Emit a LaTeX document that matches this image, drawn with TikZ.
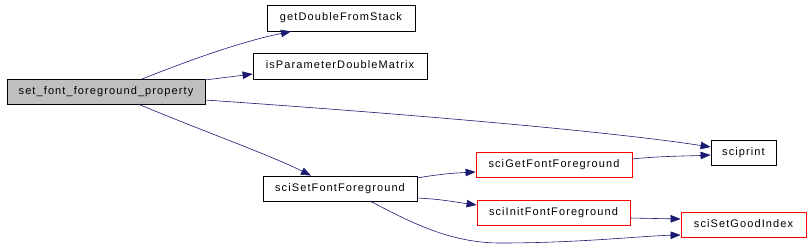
\documentclass[tikz,border=0pt]{standalone}
\usepackage{fontspec}
\setmainfont{Liberation Sans}
\newfontfamily\lblfont[LetterSpace=10]{Liberation Sans}
\usetikzlibrary{arrows.meta}
\definecolor{edgeblue}{HTML}{191970}
\begin{document}
\begin{tikzpicture}[x=1pt,y=-1pt,
  fn/.style={draw=black,line width=0.8pt,inner sep=0pt,font=\lblfont\fontsize{11}{13}\selectfont,text height=8pt,text depth=2.3pt},
  redfn/.style={fn,draw=red},
  call/.style={draw=edgeblue,line width=0.6pt,-{Triangle[length=10pt,width=7.5pt]}}]
\useasboundingbox (0,0) rectangle (810,251);
\node[fn,fill=black!25,minimum width=198pt,minimum height=25pt] (main) at (106,91.5) {set\_font\_foreground\_property};
\node[fn,minimum width=148pt,minimum height=26pt] (gd) at (341,18) {getDoubleFromStack};
\node[fn,minimum width=174pt,minimum height=26pt] (ip) at (340,66) {isParameterDoubleMatrix};
\node[fn,minimum width=65pt,minimum height=25pt] (sp) at (743.5,152.5) {sciprint};
\node[fn,minimum width=154pt,minimum height=25pt] (ss) at (340,188.5) {sciSetFontForeground};
\node[redfn,minimum width=156pt,minimum height=25pt] (sg) at (554,164.5) {sciGetFontForeground};
\node[redfn,minimum width=153pt,minimum height=25pt] (si) at (553.5,212.5) {sciInitFontForeground};
\node[redfn,minimum width=125pt,minimum height=25pt] (sgi) at (743.5,224.5) {sciSetGoodIndex};
\coordinate (a1) at (142,79);
\coordinate (a2) at (205,80);
\coordinate (a3) at (205,100);
\coordinate (a4) at (138,104);
\coordinate (b1) at (417,178);
\coordinate (b2) at (417,198);
\coordinate (b3) at (370,201);
\coordinate (c1) at (632,159);
\coordinate (c2) at (630,218);
\draw[call] (a1) .. controls (190,60) and (240,42) .. (gd.south west -| 291,31);
\draw[call] (a2) -- (ip.west |- 0,74);
\draw[call] (a3) .. controls (380,112) and (600,130) .. (sp.west |- 0,147);
\draw[call] (a4) .. controls (200,130) and (270,155) .. (ss.north west -| 311,176);
\draw[call] (b1) .. controls (440,174) and (455,173) .. (sg.west |- 0,172);
\draw[call] (b2) .. controls (440,199) and (455,202) .. (si.west |- 0,205);
\draw[call] (b3) .. controls (410,222) and (450,243) .. (500,243) .. controls (580,243) and (640,236) .. (sgi.west |- 0,235);
\draw[call] (c1) .. controls (660,156) and (690,156) .. (sp.west |- 0,155);
\draw[call] (c2) -- (sgi.west |- 0,219);
\end{tikzpicture}
\end{document}
